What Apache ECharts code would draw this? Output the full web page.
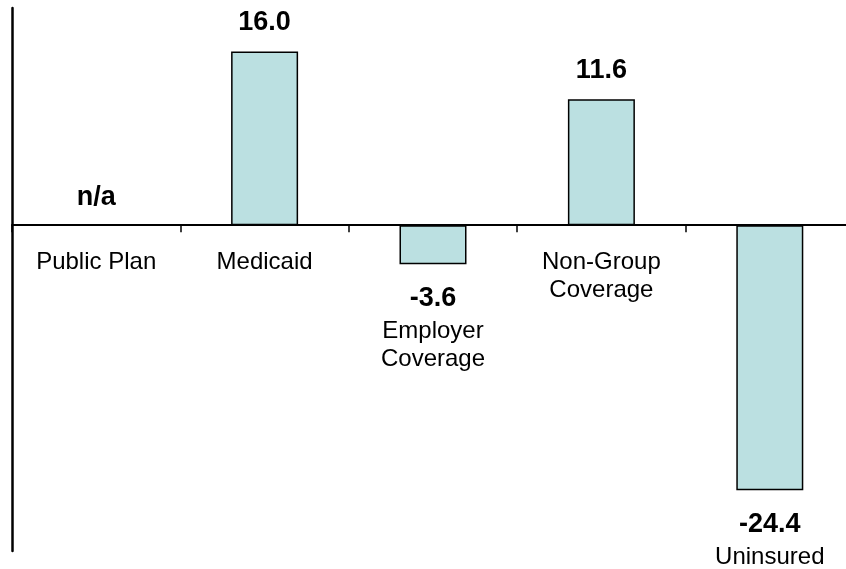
<!DOCTYPE html>
<html>
<head>
<meta charset="utf-8">
<style>
  html, body { margin: 0; padding: 0; background: #fff; }
  #chart { width: 846px; height: 569px; }
</style>
<script src="https://cdn.jsdelivr.net/npm/echarts@6/dist/echarts.min.js"></script>
</head>
<body>
<div id="chart"></div>
<script>
// Change in coverage, millions of people
const categories = ['Public Plan', 'Medicaid', 'Employer\nCoverage', 'Non-Group\nCoverage', 'Uninsured'];
const values = [null, 16.0, -3.6, 11.6, -24.4];
const missingLabel = 'n/a';

const FONT = '"Liberation Sans", Arial, sans-serif';

const chart = echarts.init(document.getElementById('chart'));

const valueText = { fontFamily: FONT, fontSize: 27, fontWeight: 'bold', lineHeight: 38, color: '#000' };
const nameText = { fontFamily: FONT, fontSize: 24, fontWeight: 'normal', lineHeight: 28, color: '#000' };

// Bars below zero carry their value and category name underneath the bar
const barData = values.map(function (v, i) {
  if (v === null) return null;
  const item = { value: v };
  if (v < 0) {
    const nameLines = categories[i].split('\n').map(function (s) { return '{c|' + s + '}'; }).join('\n');
    item.label = {
      position: 'bottom',
      distance: 15,
      formatter: '{v|' + v.toFixed(1) + '}\n' + nameLines
    };
  }
  return item;
});

// Anchors on the zero line: "n/a" above missing values, category names below
// the axis for bars that do not reach under it
const zeroAnchors = values.map(function (v, i) {
  if (v !== null && v < 0) return null;
  return { value: 0, name: categories[i], missing: v === null };
});

chart.setOption({
  animation: false,
  grid: { left: 12, top: 8, width: 842, bottom: 18, containLabel: false, outerBoundsMode: 'none' },
  xAxis: {
    type: 'category',
    data: categories,
    axisLine: { onZero: true, lineStyle: { color: '#000', width: 2 } },
    axisTick: { show: true, length: 7, alignWithLabel: false, lineStyle: { color: '#000', width: 1.5 } },
    axisLabel: { show: false },
    splitLine: { show: false }
  },
  yAxis: {
    type: 'value',
    min: -30,
    max: 20,
    interval: 10,
    axisLine: { show: true, onZero: false, lineStyle: { color: '#000', width: 2.5 } },
    axisTick: { show: false },
    axisLabel: { show: false },
    splitLine: { show: false }
  },
  series: [
    {
      type: 'bar',
      data: barData,
      barWidth: 67,
      itemStyle: { color: '#bbe0e1', borderColor: '#000', borderWidth: 1.5 },
      label: {
        show: true,
        position: 'top',
        distance: 15,
        color: '#000',
        fontFamily: FONT,
        fontSize: 27,
        fontWeight: 'bold',
        lineHeight: 27,
        formatter: function (p) { return p.value.toFixed(1); },
        rich: { v: valueText, c: nameText }
      }
    },
    {
      type: 'scatter',
      data: zeroAnchors.map(function (d) { return d && d.missing ? d : null; }),
      symbolSize: 0,
      silent: true,
      itemStyle: { opacity: 1 },
      label: {
        show: true,
        position: 'top',
        distance: 14,
        color: '#000',
        fontFamily: FONT,
        fontSize: 27,
        fontWeight: 'bold',
        lineHeight: 27,
        formatter: function () { return missingLabel; }
      }
    },
    {
      type: 'scatter',
      data: zeroAnchors,
      symbolSize: 0,
      silent: true,
      itemStyle: { opacity: 1 },
      label: {
        show: true,
        position: 'bottom',
        distance: 23,
        color: '#000',
        fontFamily: FONT,
        fontSize: 24,
        lineHeight: 28,
        formatter: function (p) { return p.name; }
      }
    }
  ]
});
</script>
</body>
</html>
